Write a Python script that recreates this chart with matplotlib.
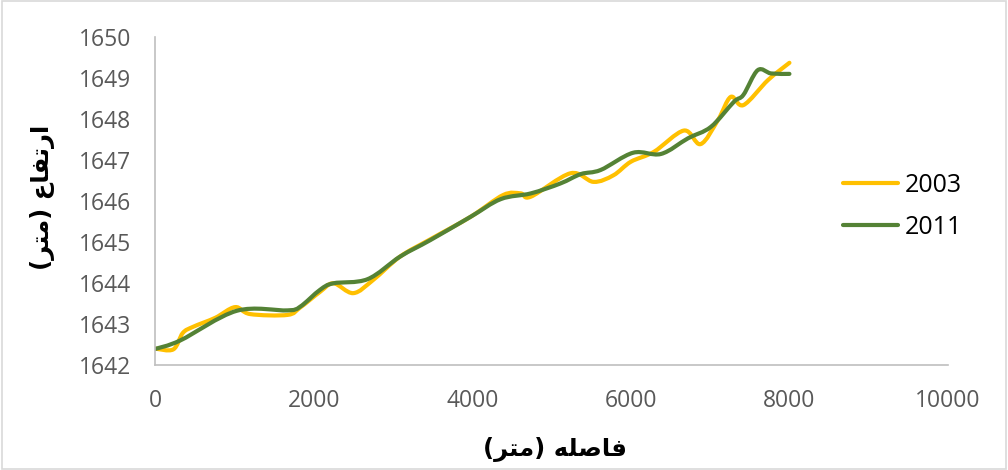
import numpy as np
import matplotlib.pyplot as plt
from matplotlib.path import Path
from matplotlib.patches import PathPatch, Rectangle
from matplotlib.lines import Line2D

# Profile elevations (distance in m, elevation in m)
dist_2003 = [0, 230, 350, 480, 760, 1010, 1200, 1670, 1830, 2080, 2250, 2500, 2750,
             3090, 3470, 3980, 4390, 4610, 4740, 5240, 5530, 5780, 6000, 6290, 6670,
             6880, 7100, 7260, 7420, 7730, 8000]
elev_2003 = [1642.40, 1642.38, 1642.78, 1642.93, 1643.15, 1643.41, 1643.24, 1643.22,
             1643.40, 1643.78, 1643.99, 1643.75, 1644.07, 1644.64, 1645.06, 1645.61,
             1646.14, 1646.18, 1646.10, 1646.67, 1646.46, 1646.62, 1646.95, 1647.19,
             1647.71, 1647.38, 1647.97, 1648.53, 1648.33, 1648.94, 1649.36]

dist_2011 = [0, 320, 1030, 1670, 1830, 2080, 2250, 2680, 3090, 3470, 3980, 4360, 4740,
             5110, 5370, 5620, 6030, 6380, 6720, 7010, 7300, 7420, 7600, 7770, 8000]
elev_2011 = [1642.39, 1642.60, 1643.32, 1643.33, 1643.42, 1643.83, 1643.99, 1644.09,
             1644.64, 1645.04, 1645.61, 1646.04, 1646.18, 1646.42, 1646.65, 1646.75,
             1647.17, 1647.14, 1647.52, 1647.80, 1648.41, 1648.58, 1649.18, 1649.10,
             1649.09]

x_ticks = [0, 2000, 4000, 6000, 8000, 10000]
y_ticks = [1642, 1643, 1644, 1645, 1646, 1647, 1648, 1649, 1650]

# Persian labels written with presentation forms in visual order
x_label = "(\uFEAE\uFE98\uFEE3) \uFEEA\uFEE0\uFEBB\uFE8E\uFED3"   # فاصله (متر)
y_label = "(\uFEAE\uFE98\uFEE3) \uFEC9\uFE8E\uFED4\uFE97\uFEAD\uFE8D"  # ارتفاع (متر)


def smooth_path(xs, ys):
    # cubic bezier through the points, like a spreadsheet "smoothed line"
    pts = np.column_stack([xs, ys]).astype(float)
    n = len(pts)
    verts = [pts[0]]
    codes = [Path.MOVETO]
    for i in range(n - 1):
        p0 = pts[max(i - 1, 0)]
        p1 = pts[i]
        p2 = pts[i + 1]
        p3 = pts[min(i + 2, n - 1)]
        verts += [p1 + (p2 - p0) / 6.0, p2 - (p3 - p1) / 6.0, p2]
        codes += [Path.CURVE4] * 3
    return Path(verts, codes)


fig = plt.figure(figsize=(10.08, 4.70), dpi=100)
ax = fig.add_axes([0.1538, 0.2234, 0.7867, 0.6989])

series = [("2003", dist_2003, elev_2003, "#FFC000"),
          ("2011", dist_2011, elev_2011, "#548235")]
handles = []
for name, xs, ys, col in series:
    patch = PathPatch(smooth_path(xs, ys), facecolor="none", edgecolor=col,
                      lw=3.0, capstyle="round", joinstyle="round")
    ax.add_patch(patch)
    handles.append(Line2D([], [], color=col, lw=3.0, solid_capstyle="round"))

ax.set_xlim(0, 10000)
ax.set_ylim(1642, 1650)
ax.set_xticks(x_ticks)
ax.set_yticks(y_ticks)
ax.tick_params(length=0, labelsize=16.5, labelcolor="#595959")
ax.tick_params(axis="x", pad=17)
ax.tick_params(axis="y", pad=17)
for lab in ax.get_xticklabels() + ax.get_yticklabels():
    lab.set_family("Open Sans")

for side in ["top", "right"]:
    ax.spines[side].set_visible(False)
for side in ["left", "bottom"]:
    ax.spines[side].set_color("#BFBFBF")
    ax.spines[side].set_linewidth(1.2)

fig.text(0.551, 1 - 450 / 470, x_label, ha="center", va="center",
         fontsize=17.5, fontweight="bold", family="DejaVu Sans")
fig.text(43 / 1008, 1 - 197 / 470, y_label, ha="center", va="center", rotation=90,
         fontsize=17.5, fontweight="bold", family="DejaVu Sans")

leg = ax.legend(handles, ["2003", "2011"], loc="center left",
                bbox_to_anchor=(843 / 1008, 1 - 206 / 470),
                bbox_transform=fig.transFigure, frameon=False,
                handlelength=2.2, handletextpad=0.25, labelspacing=0.68,
                borderpad=0, borderaxespad=0,
                prop={"family": "Open Sans", "size": 18})

# thin border around the whole chart
fig.patches.append(Rectangle((0.0015, 0.002), 0.997, 0.995, transform=fig.transFigure,
                             fill=False, edgecolor="#D9D9D9", lw=1.2))

fig.savefig("out.png", dpi=100)
